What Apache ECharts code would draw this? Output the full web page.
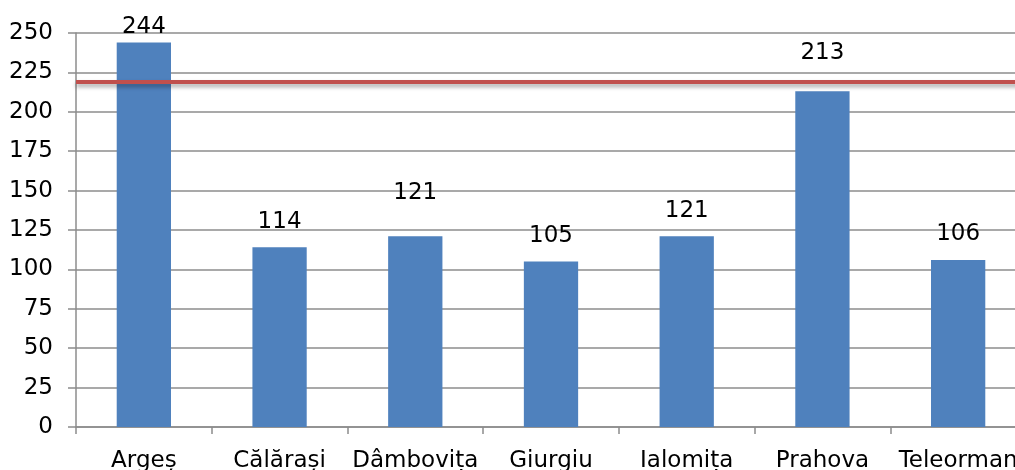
<!DOCTYPE html>
<html>
<head>
<meta charset="utf-8">
<script src="https://cdn.jsdelivr.net/npm/echarts@6/dist/echarts.min.js"></script>
<style>
  html, body { margin: 0; padding: 0; background: #fff; overflow: hidden; width: 1015px; height: 470px; }
  #chart { width: 1015px; height: 470px; }
</style>
</head>
<body>
<div id="chart"></div>
<script>
// Counties and their counts
const counties = ['Argeș', 'Călărași', 'Dâmbovița', 'Giurgiu', 'Ialomița', 'Prahova', 'Teleorman'];
const counts = [244, 114, 121, 105, 121, 213, 106];
// Reference level drawn across the plot
const referenceLevel = 219;
// Y axis range
const yMin = 0;
const yMax = 250;
const yStep = 25;

// Extra lift for a few value labels (by category index)
const labelLift = { 0: 4, 2: 32, 5: 27 };

const FONT = 'DejaVu Sans';
const FS = 23;
const chart = echarts.init(document.getElementById('chart'), null, { renderer: 'canvas' });

chart.setOption({
  animation: false,
  backgroundColor: '#ffffff',
  // plot runs past the right edge of the canvas, so the last label is clipped
  grid: { left: 76, top: 33, width: 950, height: 394, containLabel: false, outerBoundsMode: 'none' },
  xAxis: {
    type: 'category',
    data: counties,
    axisLine: { lineStyle: { color: '#8c8c8c', width: 1.5 } },
    axisTick: { show: true, length: 7, alignWithLabel: false, lineStyle: { color: '#8c8c8c', width: 1.5 } },
    axisLabel: { color: '#000', fontFamily: FONT, fontSize: FS, margin: 23, interval: 0, hideOverlap: false }
  },
  yAxis: {
    type: 'value',
    min: yMin,
    max: yMax,
    interval: yStep,
    axisLine: { show: true, lineStyle: { color: '#8c8c8c', width: 1.5 } },
    axisTick: { show: true, length: 8, lineStyle: { color: '#8c8c8c', width: 1.5 } },
    axisLabel: { color: '#000', fontFamily: FONT, fontSize: FS, margin: 23 },
    splitLine: { show: true, lineStyle: { color: '#8c8c8c', width: 1.5 } }
  },
  series: [{
    type: 'bar',
    barWidth: '40%',
    data: counts.map((v, i) => ({
      value: v,
      label: { distance: labelLift[i] !== undefined ? labelLift[i] : 14 }
    })),
    itemStyle: { color: '#4f81bd' },
    label: {
      show: true,
      position: 'top',
      color: '#000',
      fontFamily: FONT,
      fontSize: FS
    },
    markLine: {
      silent: true,
      symbol: ['none', 'none'],
      label: { show: false },
      lineStyle: {
        color: '#c0504d',
        width: 4,
        type: 'solid',
        shadowColor: 'rgba(0,0,0,0.35)',
        shadowBlur: 4,
        shadowOffsetY: 3
      },
      data: [{ yAxis: referenceLevel }]
    }
  }]
});
</script>
</body>
</html>
